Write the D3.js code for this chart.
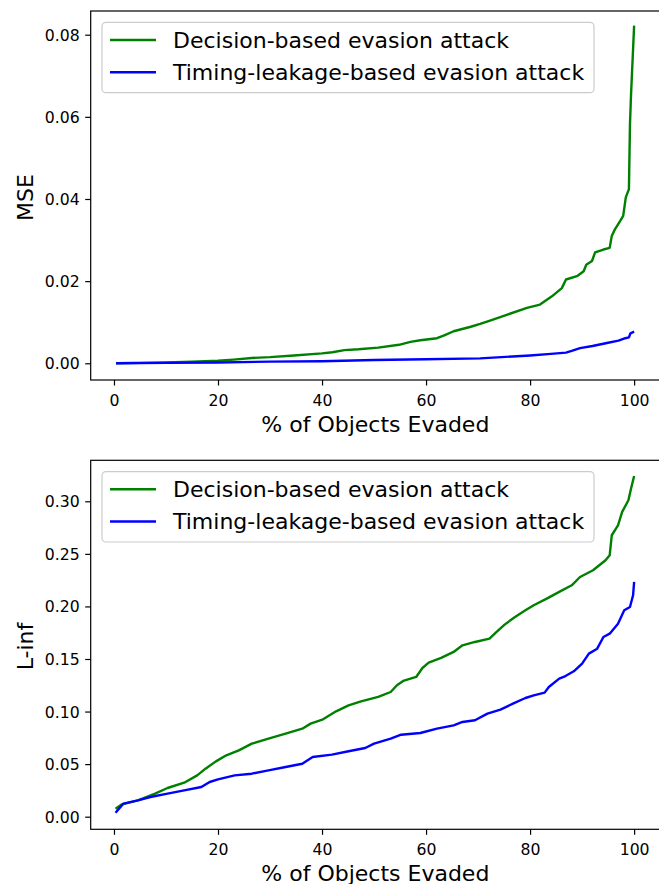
<!DOCTYPE html>
<html>
<head>
<meta charset="utf-8">
<script src="https://cdn.jsdelivr.net/npm/d3@7/dist/d3.min.js"></script>
<style>
  html, body { margin: 0; padding: 0; background: #fff; }
  svg { display: block; font-family: "DejaVu Sans", sans-serif; }
</style>
</head>
<body>
<svg id="chart" width="659" height="884"></svg>
<script>
// ---------- DATA ----------
const seriesNames = ["Decision-based evasion attack", "Timing-leakage-based evasion attack"];
const xTicks = [0, 20, 40, 60, 80, 100];
const mseTicks = [0.00, 0.02, 0.04, 0.06, 0.08];
const linfTicks = [0.00, 0.05, 0.10, 0.15, 0.20, 0.25, 0.30];

// MSE – decision-based (green)
const mseDecX = [0.4, 5, 10, 15, 20, 23, 26.5, 30, 34.6, 40, 42, 44.3, 47, 50.8, 54.8, 57, 58.9, 62.1, 63.5, 65.3, 68.6, 70.4, 72.3, 75.5, 79.4, 81.9, 84.2, 86.1, 86.9, 89.0, 90.3, 90.8, 91.9, 92.5, 94.1, 95.3, 95.7, 96.3, 97.3, 97.9, 98.4, 99.0, 99.2, 99.4, 100];
const mseDecY = [0.0000, 0.0001, 0.0002, 0.0004, 0.0006, 0.0009, 0.0013, 0.0015, 0.0019, 0.0024, 0.0027, 0.0032, 0.0034, 0.0038, 0.0045, 0.0052, 0.0056, 0.0061, 0.0068, 0.0078, 0.0089, 0.0096, 0.0104, 0.0118, 0.0135, 0.0143, 0.0163, 0.0183, 0.0204, 0.0212, 0.0224, 0.0240, 0.0249, 0.0270, 0.0277, 0.0281, 0.0310, 0.0326, 0.0346, 0.0359, 0.0404, 0.0424, 0.0580, 0.0652, 0.0822];

// MSE – timing-leakage-based (blue)
const mseTimX = [0.4, 10, 20, 30, 40, 50, 60, 70.4, 80, 84, 86.9, 88, 89.6, 92, 95, 97, 98.3, 99.0, 99.3, 100];
const mseTimY = [0.0000, 0.0001, 0.0002, 0.0004, 0.0005, 0.0008, 0.0010, 0.0012, 0.0019, 0.0023, 0.0026, 0.0030, 0.0037, 0.0042, 0.0050, 0.0055, 0.0061, 0.0063, 0.0073, 0.0077];

// L-inf – decision-based (green)
const linfDecX = [0.3, 1.4, 4.6, 7.9, 10.3, 13.5, 16, 17.6, 19.6, 21.6, 24, 26.5, 29.7, 33, 36.2, 37.8, 40.2, 42.7, 45.1, 47.5, 50.8, 53.2, 54.4, 55.6, 58.1, 59.3, 60.5, 62.9, 65.3, 67, 69.4, 72.2, 73.4, 75.1, 77.1, 79.1, 80.7, 83.2, 85.6, 88, 89.6, 92.1, 94.5, 95.3, 95.7, 96.9, 97.7, 98.9, 99.4, 100];
const linfDecY = [0.0076, 0.0114, 0.0155, 0.0219, 0.0273, 0.0323, 0.0393, 0.0457, 0.0526, 0.0584, 0.0631, 0.0695, 0.0742, 0.0790, 0.0837, 0.0885, 0.0926, 0.1002, 0.1059, 0.1097, 0.1139, 0.1186, 0.1250, 0.1291, 0.1329, 0.1414, 0.1465, 0.1510, 0.1567, 0.1630, 0.1662, 0.1694, 0.1751, 0.1827, 0.1900, 0.1963, 0.2011, 0.2074, 0.2138, 0.2201, 0.2280, 0.2344, 0.2439, 0.2486, 0.2677, 0.2772, 0.2899, 0.3010, 0.3120, 0.3241];

// L-inf – timing-leakage-based (blue)
const linfTimX = [0.3, 1.8, 4.6, 7, 10.3, 13.5, 16.8, 18.4, 20, 23.2, 26.5, 29.7, 33, 36.2, 38.2, 41.9, 45.1, 48.3, 50, 53.2, 55.2, 58.9, 62.1, 65.3, 67, 69.4, 71.8, 74.3, 76.7, 79.1, 80.7, 82.8, 83.6, 85.6, 86.8, 88.4, 90, 91.3, 92.9, 94.1, 95.3, 96.9, 98.1, 99.2, 99.8, 100];
const linfTimY = [0.0038, 0.0124, 0.0155, 0.0187, 0.0219, 0.0250, 0.0282, 0.0330, 0.0355, 0.0393, 0.0409, 0.0441, 0.0473, 0.0504, 0.0568, 0.0590, 0.0622, 0.0653, 0.0695, 0.0742, 0.0780, 0.0796, 0.0837, 0.0869, 0.0901, 0.0917, 0.0980, 0.1018, 0.1075, 0.1129, 0.1154, 0.1180, 0.1234, 0.1313, 0.1338, 0.1383, 0.1456, 0.1551, 0.1598, 0.1709, 0.1741, 0.1836, 0.1963, 0.1995, 0.2106, 0.2233];

// ---------- DRAWING ----------
const svg = d3.select("#chart");
const colors = ["#008000", "#0000ff"];
const fmt = d3.format(".2f");

function panel(opts) {
  const { top, bottom, left, right, yDomain, yTicks, yLabel, series, labelY } = opts;
  const g = svg.append("g");
  const x = d3.scaleLinear().domain([-4.475, 104.975]).range([left, right]);
  const y = d3.scaleLinear().domain(yDomain).range([bottom, top]);

  // lines
  const line = d3.line().x(d => x(d[0])).y(d => y(d[1]));
  series.forEach((s, i) => {
    const pts = s.x.map((v, k) => [v, s.y[k]]);
    g.append("path").datum(pts)
      .attr("d", line)
      .attr("fill", "none")
      .attr("stroke", colors[i])
      .attr("stroke-width", 2.4)
      .attr("stroke-linejoin", "round")
      .attr("stroke-linecap", "butt");
  });

  // axes
  const xAxis = d3.axisBottom(x).tickValues(xTicks).tickFormat(d3.format("d")).tickSize(5.5).tickPadding(5.5);
  const gx = g.append("g").attr("transform", `translate(0,${bottom})`).call(xAxis);
  gx.select(".domain").remove();
  gx.selectAll(".tick line").attr("stroke", "#000").attr("stroke-width", 1.2);
  gx.selectAll(".tick text").attr("y", 26).attr("dy", 0).attr("fill", "#000")
    .style("font-size", "15.7px").style("font-family", "DejaVu Sans");

  const yAxis = d3.axisLeft(y).tickValues(yTicks).tickFormat(fmt).tickSize(5.5).tickPadding(5.5);
  const gy = g.append("g").attr("transform", `translate(${left},0)`).call(yAxis);
  gy.select(".domain").remove();
  gy.selectAll(".tick line").attr("stroke", "#000").attr("stroke-width", 1.2);
  gy.selectAll(".tick text").attr("dy", "0.35em").attr("fill", "#000")
    .style("font-size", "15.7px").style("font-family", "DejaVu Sans");

  // spines
  g.append("rect").attr("x", left).attr("y", top)
    .attr("width", right - left).attr("height", bottom - top)
    .attr("fill", "none").attr("stroke", "#000").attr("stroke-width", 1.2);

  // axis labels
  g.append("text").attr("x", (left + right) / 2).attr("y", bottom + 52)
    .attr("text-anchor", "middle").style("font-size", "22px").attr("fill", "#000")
    .text("% of Objects Evaded");
  g.append("text").attr("transform", `translate(33,${labelY}) rotate(-90)`)
    .attr("text-anchor", "middle").style("font-size", "22px").attr("fill", "#000")
    .text(yLabel);

  // legend
  const lg = g.append("g");
  const lx = 102, ly = top + 11.3, lw = 492, lh = 70.4;
  lg.append("rect").attr("x", lx).attr("y", ly).attr("width", lw).attr("height", lh)
    .attr("rx", 4).attr("ry", 4)
    .attr("fill", "#fff").attr("fill-opacity", 0.8)
    .attr("stroke", "#cccccc").attr("stroke-width", 1.2);
  seriesNames.forEach((name, i) => {
    const yy = ly + 17.7 + i * 32.2;
    lg.append("line").attr("x1", 110).attr("x2", 156).attr("y1", yy).attr("y2", yy)
      .attr("stroke", colors[i]).attr("stroke-width", 2.4);
    lg.append("text").attr("x", 173).attr("y", yy).attr("dy", "0.35em")
      .style("font-size", "22px").attr("fill", "#000").text(name);
  });
}

panel({
  top: 11, bottom: 380, left: 90.7, right: 660,
  yDomain: [-0.00407, 0.08577], yTicks: mseTicks, yLabel: "MSE", labelY: 197.5,
  series: [{ x: mseDecX, y: mseDecY }, { x: mseTimX, y: mseTimY }]
});

panel({
  top: 460.3, bottom: 829.3, left: 90.7, right: 660,
  yDomain: [-0.012, 0.339], yTicks: linfTicks, yLabel: "L-inf", labelY: 646.5,
  series: [{ x: linfDecX, y: linfDecY }, { x: linfTimX, y: linfTimY }]
});
</script>
</body>
</html>
